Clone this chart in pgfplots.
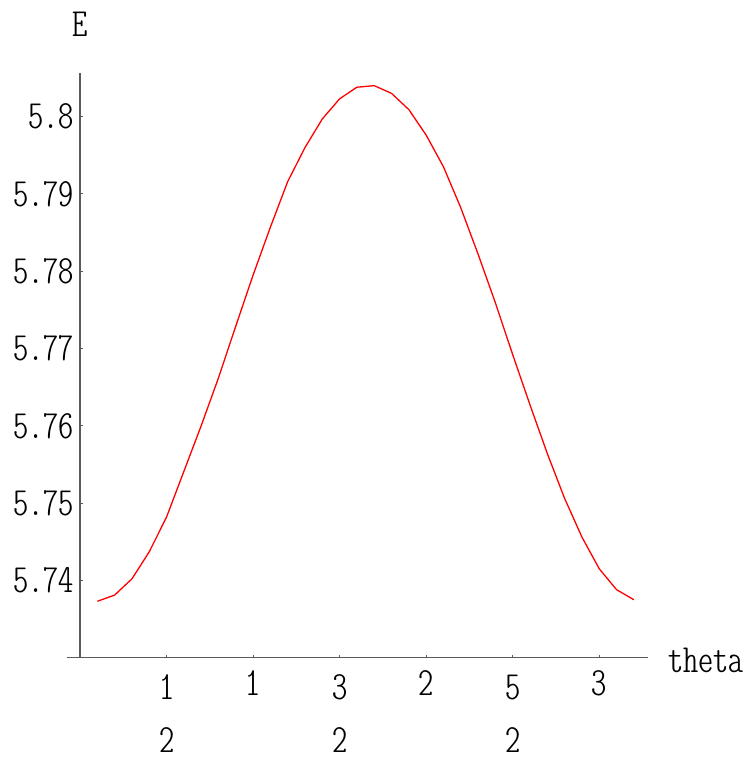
\documentclass[border=0pt]{standalone}
\usepackage{fontspec}
\setmainfont{Latin Modern Mono Light Cond}[FakeStretch=1.08]
\usepackage{pgfplots}
\pgfplotsset{compat=1.18}
% stacked fraction label without bar, as in the original
\newcommand{\fr}[2]{\begin{tabular}{@{}c@{}}#1\\[2.5pt]#2\end{tabular}}
% whole numbers sit a little higher than the numerators
\newcommand{\nm}[1]{\raisebox{0pt}[\dimexpr\height+2.3pt\relax]{#1}}

\pgfplotstableread{
theta E
0.1 5.7373
0.2 5.7381
0.3 5.7402
0.4 5.7437
0.5 5.7482
0.6 5.7541
0.7 5.7600
0.8 5.7662
0.9 5.7729
1.0 5.7795
1.1 5.7857
1.2 5.7916
1.3 5.7960
1.4 5.7997
1.5 5.8023
1.6 5.8038
1.7 5.8040
1.8 5.8030
1.9 5.8009
2.0 5.7976
2.1 5.7935
2.2 5.7882
2.3 5.7822
2.4 5.7759
2.5 5.7692
2.6 5.7627
2.7 5.7564
2.8 5.7506
2.9 5.7456
3.0 5.7415
3.1 5.7388
3.2 5.7375
}\energy

\begin{document}
\begin{tikzpicture}
\useasboundingbox (-33.35pt,-52.65pt) rectangle (342.65pt,328.85pt);
\begin{axis}[
    scale only axis,
    width=290.5pt, height=292.2pt,
    xmin=-0.077, xmax=3.28,
    ymin=5.73, ymax=5.8056,
    axis x line=bottom, axis y line=middle,
    axis line style={-, black!65, line width=0.6pt},
    tick style={black!65, line width=0.5pt},
    tick align=inside,
    major tick length=1.3pt,
    xtick={0.5,1,1.5,2,2.5,3},
    xticklabels={\fr{1}{2}, \nm{1}, \fr{3}{2}, \nm{2}, \fr{5}{2}, \nm{3}},
    ytick={5.74,5.75,5.76,5.77,5.78,5.79,5.8},
    yticklabels={5.74,5.75,5.76,5.77,5.78,5.79,5.8},
    tick label style={font=\fontsize{20}{24}\selectfont},
    label style={font=\fontsize{20}{24}\selectfont},
    xticklabel style={anchor=north, inner sep=0pt, yshift=-3.85pt},
    yticklabel style={anchor=east, inner sep=0pt, xshift=-3pt},
    xlabel={theta},
    ylabel={E},
    xlabel style={at={(rel axis cs:1,0)}, anchor=base west, inner sep=0pt, xshift=10.2pt, yshift=-7.2pt},
    ylabel style={at={(axis cs:0,5.8056)}, rotate=0, anchor=base, inner sep=0pt, yshift=18.2pt},
]
\addplot[red, line width=0.65pt, mark=none] table[x=theta, y=E] {\energy};
\end{axis}
\end{tikzpicture}
\end{document}
